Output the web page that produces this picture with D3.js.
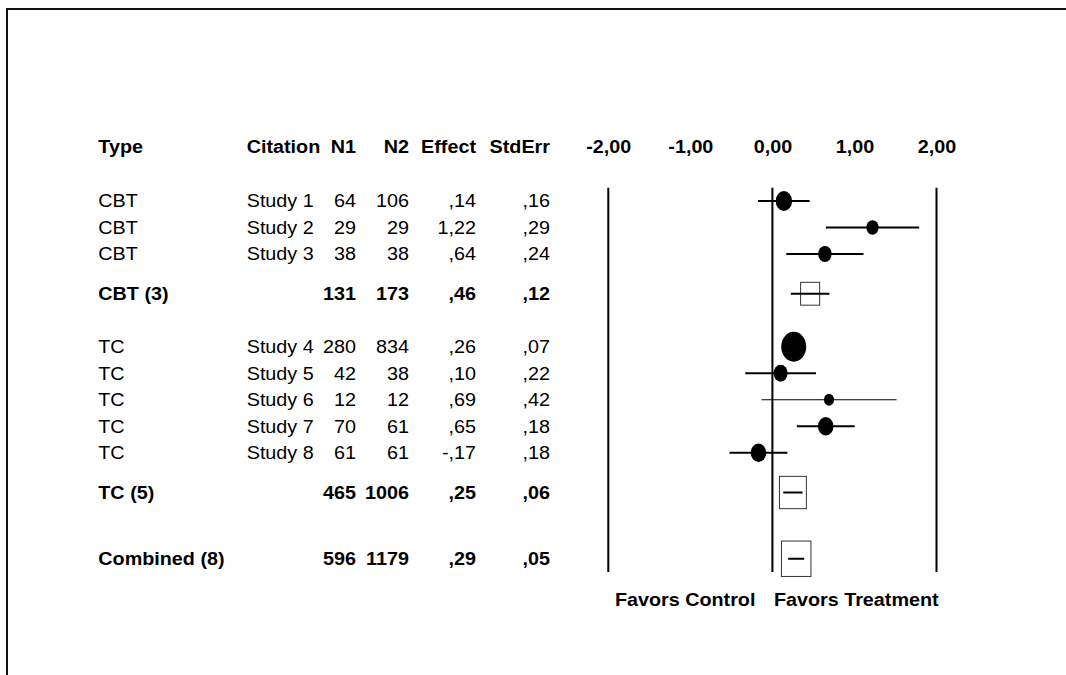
<!DOCTYPE html>
<html>
<head>
    <meta charset="utf-8">
    <title>Forest Plot</title>
    <script src="https://d3js.org/d3.v7.min.js"></script>
    <style>
        body { margin: 0; background: #fff; }
        svg text { font-family: "Liberation Sans", Arial, Helvetica, sans-serif; font-size: 17.5px; fill: #000; }
        .bold { font-weight: bold; }
    </style>
</head>
<body>
<script>

// study rows
var types = ["CBT", "CBT", "CBT", "TC", "TC", "TC", "TC", "TC"];
var citations = ["Study 1", "Study 2", "Study 3", "Study 4", "Study 5", "Study 6", "Study 7", "Study 8"];
var n1 = [64, 29, 38, 280, 42, 12, 70, 61];
var n2 = [106, 29, 38, 834, 38, 12, 61, 61];
var effects = [0.14, 1.22, 0.64, 0.26, 0.10, 0.69, 0.65, -0.17];
var stdErrs = [0.16, 0.29, 0.24, 0.07, 0.22, 0.42, 0.18, 0.18];

// subgroup + combined rows
var summaryLabels = ["CBT (3)", "TC (5)", "Combined (8)"];
var summaryN1 = [131, 465, 596];
var summaryN2 = [173, 1006, 1179];
var summaryEffects = [0.46, 0.25, 0.29];
var summaryStdErrs = [0.12, 0.06, 0.05];

var headers = ["Type", "Citation", "N1", "N2", "Effect", "StdErr"];
var tickValues = [-2, -1, 0, 1, 2];
var refLines = [-2, 0, 2];
var sideLabels = ["Favors Control", "Favors Treatment"];

var width = 1066, height = 675;
var sx = 1.13; // text is drawn a bit wide in the original

var locale = d3.formatLocale({decimal: ",", thousands: ".", grouping: [3], currency: ["", ""], minus: "-"});
var f2 = locale.format(".2f");
function fmtStat(v) { return f2(v).replace(/^(-?)0,/, "$1,"); }

// layout rows in half-row slots
var rows = [];
var slot = 0;
var groups = ["CBT", "TC"];
groups.forEach(function(g, gi) {
    if (gi > 0) slot += 4;
    var first = true;
    types.forEach(function(t, i) {
        if (t !== g) return;
        if (!first) slot += 2;
        first = false;
        rows.push({slot: slot, summary: false, type: t, cit: citations[i], n1: n1[i], n2: n2[i], es: effects[i], se: stdErrs[i]});
    });
    slot += 3;
    rows.push({slot: slot, summary: true, type: summaryLabels[gi], cit: "", n1: summaryN1[gi], n2: summaryN2[gi], es: summaryEffects[gi], se: summaryStdErrs[gi]});
});
slot += 5;
rows.push({slot: slot, summary: true, type: summaryLabels[2], cit: "", n1: summaryN1[2], n2: summaryN2[2], es: summaryEffects[2], se: summaryStdErrs[2]});

var y = d3.scaleLinear().domain([0, 27]).range([201, 558.75]);
var x = d3.scaleLinear().domain([-2, 2]).range([608.3, 936.5]);
var size = d3.scaleSqrt().domain([0, 20]).range([0, 29.5]);
var ciWidth = d3.scaleLinear().domain([2.4, 3.4]).range([1.2, 2]).clamp(true);

var svg = d3.select("body").append("svg")
    .attr("width", width)
    .attr("height", height);

// frame
svg.append("path")
    .attr("d", "M7," + height + "V9H" + width)
    .attr("fill", "none")
    .attr("stroke", "#111")
    .attr("stroke-width", 2);

// table columns: [x, anchor]
var cols = [[98.3, "start"], [246.7, "start"], [356, "end"], [409, "end"], [476, "end"], [550, "end"]];
var dy = "0.36em";

function putText(sel, xPos, yPos, anchor, txt) {
    sel.append("text")
        .attr("transform", "translate(" + xPos + "," + yPos + ") scale(" + sx + ",1)")
        .attr("text-anchor", anchor)
        .attr("dy", dy)
        .text(txt);
}

var head = svg.append("g").attr("class", "bold");
headers.forEach(function(h, i) {
    putText(head, cols[i][0], y(-4.1), cols[i][1], h);
});

var table = svg.append("g");
rows.forEach(function(r) {
    var g = table.append("g").attr("class", r.summary ? "bold" : null);
    var vals = [r.type, r.cit, r.n1, r.n2, fmtStat(r.es), fmtStat(r.se)];
    vals.forEach(function(v, i) {
        if (v === "") return;
        putText(g, cols[i][0], y(r.slot), cols[i][1], v);
    });
});

// axis labels on top
var axis = svg.append("g")
    .attr("class", "bold")
    .attr("transform", "translate(0," + (y(-4.1) + 6.3) + ")")
    .call(d3.axisTop(x).tickValues(tickValues).tickSize(0).tickPadding(0).tickFormat(f2));
axis.select(".domain").remove();
axis.selectAll("text")
    .attr("y", 0)
    .attr("dy", 0)
    .attr("font-size", null)
    .attr("font-family", null)
    .attr("fill", "#000")
    .attr("transform", "scale(" + sx + ",1)");

// reference lines
svg.append("g")
  .selectAll("line")
  .data(refLines)
  .enter().append("line")
    .attr("x1", function(d) { return x(d); })
    .attr("x2", function(d) { return x(d); })
    .attr("y1", y(-1))
    .attr("y2", y(28))
    .attr("stroke", "#000")
    .attr("stroke-width", 2);

// confidence intervals + markers
var marks = svg.append("g");
rows.forEach(function(r) {
    var w = size(1 / r.se);
    var cy = y(r.slot);
    if (r.summary) {
        marks.append("rect")
            .attr("x", x(r.es) - w / 2)
            .attr("y", cy - w * 0.6)
            .attr("width", w)
            .attr("height", w * 1.2)
            .attr("fill", "#fff")
            .attr("stroke", "#333")
            .attr("stroke-width", 1);
    }
    marks.append("line")
        .attr("x1", x(r.es - 1.96 * r.se))
        .attr("x2", x(r.es + 1.96 * r.se))
        .attr("y1", cy)
        .attr("y2", cy)
        .attr("stroke", "#000")
        .attr("stroke-width", r.summary ? 2 : ciWidth(1 / r.se));
    if (!r.summary) {
        marks.append("ellipse")
            .attr("cx", x(r.es))
            .attr("cy", cy)
            .attr("rx", w / 2)
            .attr("ry", w * 0.6)
            .attr("fill", "#000");
    }
});

// bottom labels
var side = svg.append("g").attr("class", "bold");
putText(side, x(0) - 17, y(30.1), "end", sideLabels[0]);
putText(side, x(0) + 1.5, y(30.1), "start", sideLabels[1]);

</script>
</body>
</html>
